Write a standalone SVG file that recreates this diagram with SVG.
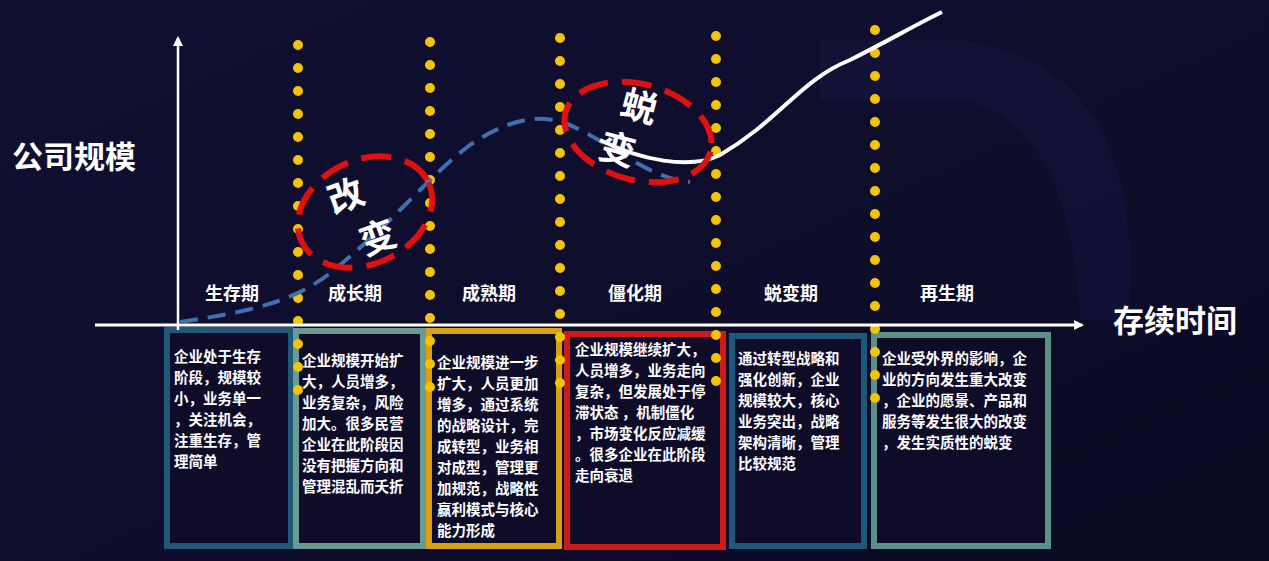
<svg xmlns="http://www.w3.org/2000/svg" width="1269" height="561" viewBox="0 0 1269 561">
<defs>
<marker id="ar" markerWidth="10" markerHeight="10" refX="8" refY="5" orient="auto" markerUnits="userSpaceOnUse"><path d="M0,0 L10,5 L0,10 Z" fill="#fff"/></marker>
<linearGradient id="bg" x1="0" y1="0" x2="1" y2="1"><stop offset="0" stop-color="#111033"/><stop offset="1" stop-color="#0b0a24"/></linearGradient>
</defs>
<style>
text{font-family:"Noto Sans CJK SC","Liberation Sans",sans-serif;fill:#fff;font-weight:bold}
.st{font-size:18px;text-anchor:middle}
.bx{font-size:14.5px}
.box{fill:#0f0c2a;stroke-width:6}
.dots{stroke:#f5c400;stroke-width:10;stroke-linecap:round;stroke-dasharray:0 23}
.ring{fill:none;stroke:#e01010;stroke-width:6;stroke-dasharray:30 14}
</style>
<rect width="1269" height="561" fill="url(#bg)"/>
<path d="M820,40 L960,40 Q1120,60 1130,250 L1130,320 L1080,320 Q1070,120 960,100 L820,100 Z" fill="#15163d" opacity="0.6"/>
<g id="boxes">
<g id="b1"><rect class="box" x="167" y="330" width="124" height="216" stroke="#1f5878"/>
<text class="bx"><tspan x="174" y="362">企业处于生存</tspan><tspan x="174" y="383">阶段，规模较</tspan><tspan x="174" y="404">小，业务单一</tspan><tspan x="174" y="425">，关注机会，</tspan><tspan x="174" y="446">注重生存，管</tspan><tspan x="174" y="467">理简单</tspan></text></g>
<g id="b2"><rect class="box" x="296" y="331" width="127" height="215" stroke="#6b9a92"/>
<text class="bx"><tspan x="302" y="366">企业规模开始扩</tspan><tspan x="302" y="387">大，人员增多，</tspan><tspan x="302" y="408">业务复杂，风险</tspan><tspan x="302" y="429">加大。很多民营</tspan><tspan x="302" y="450">企业在此阶段因</tspan><tspan x="302" y="471">没有把握方向和</tspan><tspan x="302" y="492">管理混乱而夭折</tspan></text></g>
<g id="b3"><rect class="box" x="429" y="331" width="130" height="215" stroke="#d8a012"/>
<text class="bx"><tspan x="437" y="368">企业规模进一步</tspan><tspan x="437" y="389">扩大，人员更加</tspan><tspan x="437" y="410">增多，通过系统</tspan><tspan x="437" y="431">的战略设计，完</tspan><tspan x="437" y="452">成转型，业务相</tspan><tspan x="437" y="473">对成型，管理更</tspan><tspan x="437" y="494">加规范，战略性</tspan><tspan x="437" y="515">赢利模式与核心</tspan><tspan x="437" y="536">能力形成</tspan></text></g>
<g id="b4"><rect class="box" x="567" y="334" width="156" height="213" stroke="#cf1a1a"/>
<text class="bx"><tspan x="575" y="355">企业规模继续扩大，</tspan><tspan x="575" y="376">人员增多，业务走向</tspan><tspan x="575" y="397">复杂，但发展处于停</tspan><tspan x="575" y="418">滞状态 ，机制僵化</tspan><tspan x="575" y="439">，市场变化反应减缓</tspan><tspan x="575" y="460">。很多企业在此阶段</tspan><tspan x="575" y="481">走向衰退</tspan></text></g>
<g id="b5"><rect class="box" x="732" y="336" width="132" height="210" stroke="#1d5878"/>
<text class="bx"><tspan x="738" y="364">通过转型战略和</tspan><tspan x="738" y="385">强化创新，企业</tspan><tspan x="738" y="406">规模较大，核心</tspan><tspan x="738" y="427">业务突出，战略</tspan><tspan x="738" y="448">架构清晰，管理</tspan><tspan x="738" y="469">比较规范</tspan></text></g>
<g id="b6"><rect class="box" x="874" y="335" width="174" height="211" stroke="#5b9088"/>
<text class="bx"><tspan x="882" y="364">企业受外界的影响，企</tspan><tspan x="882" y="385">业的方向发生重大改变</tspan><tspan x="882" y="406">，企业的愿景、产品和</tspan><tspan x="882" y="427">服务等发生很大的改变</tspan><tspan x="882" y="448">，发生实质性的蜕变</tspan></text></g>
</g>
<g id="dotlines">
<line class="dots" x1="298" y1="45" x2="298" y2="400"/>
<line class="dots" x1="430" y1="42" x2="430" y2="400"/>
<line class="dots" x1="560" y1="38" x2="560" y2="400"/>
<line class="dots" x1="716" y1="36" x2="716" y2="400"/>
<line class="dots" x1="875" y1="30" x2="875" y2="400"/>
</g>
<g id="connectors">
<line x1="178" y1="330" x2="178" y2="38" stroke="#fff" stroke-width="2.5" marker-end="url(#ar)"/>
<line x1="95" y1="325" x2="1082" y2="325" stroke="#fff" stroke-width="3" marker-end="url(#ar)"/>
<path d="M180,322 C260,310 300,300 340,265 C400,215 430,175 470,145 C510,118 545,110 580,130 C620,150 650,178 690,182" fill="none" stroke="#3f70b0" stroke-width="4" stroke-dasharray="18 10"/>
<path d="M600,140 C640,160 690,170 720,155 C780,120 800,80 850,60 C890,40 915,25 942,12" fill="none" stroke="#fff" stroke-width="4"/>
</g>
<g id="labels">
<text x="12" y="168" style="font-size:31px">公司规模</text>
<text x="1113" y="332" style="font-size:31px">存续时间</text>
<text class="st" x="232" y="300">生存期</text>
<text class="st" x="355" y="300">成长期</text>
<text class="st" x="489" y="300">成熟期</text>
<text class="st" x="635" y="300">僵化期</text>
<text class="st" x="791" y="300">蜕变期</text>
<text class="st" x="947" y="300">再生期</text>
</g>
<g id="ring1"><ellipse class="ring" cx="365" cy="212" rx="70" ry="52" transform="rotate(-25 365 212)"/>
<text style="font-size:36px" transform="rotate(-20 360 212)"><tspan x="334" y="205">改</tspan><tspan x="350" y="255">变</tspan></text></g>
<g id="ring2"><ellipse class="ring" cx="638" cy="132" rx="75" ry="48" transform="rotate(15 638 132)"/>
<text style="font-size:36px" transform="rotate(15 630 130)"><tspan x="615" y="118">蜕</tspan><tspan x="605" y="165">变</tspan></text></g>
</svg>
